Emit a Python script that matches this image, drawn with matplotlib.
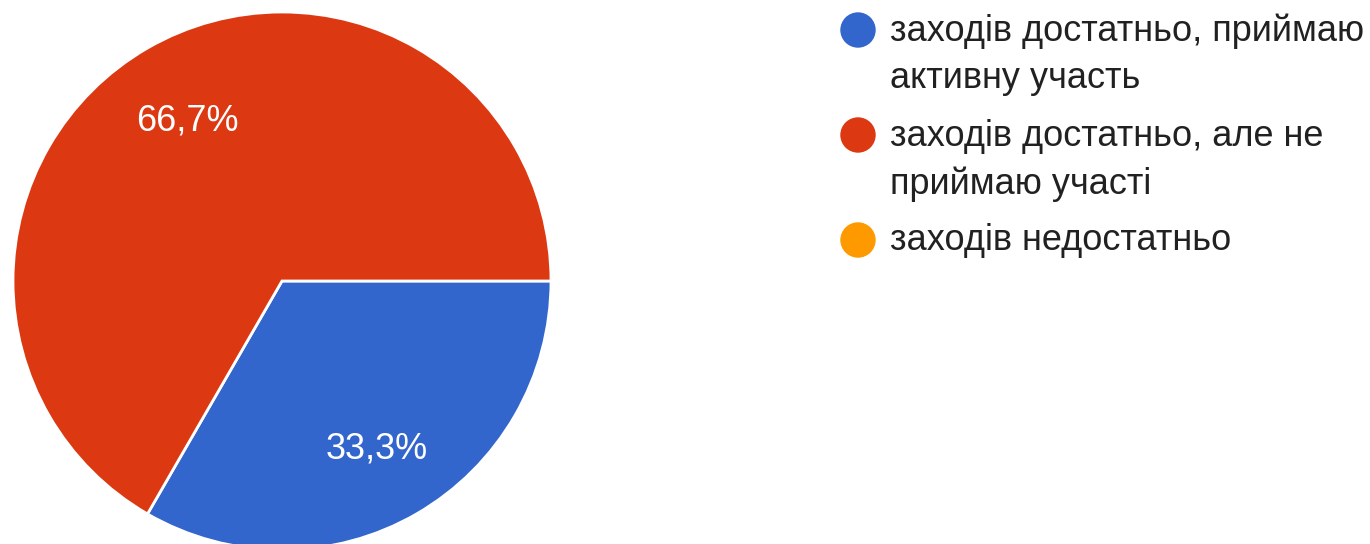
import matplotlib.pyplot as plt

plt.rcParams['font.family'] = ['Liberation Sans', 'DejaVu Sans']

categories = [
    'заходів достатньо, приймаю\nактивну участь',
    'заходів достатньо, але не\nприймаю участі',
    'заходів недостатньо',
]
counts = [1, 2, 0]
colors = ['#3366CC', '#DC3912', '#FF9900']


def fmt_pct(p):
    return ('%.1f%%' % p).replace('.', ',') if p > 0 else ''


def draw():
    fig = plt.figure(figsize=(13.7, 5.44), dpi=100)

    # pie: centre (282, 281) px, radius 269 px
    W, H = 1370, 544
    cx, cy, r = 282, 281, 269
    ax = fig.add_axes([(cx - r) / W, (H - cy - r) / H, 2 * r / W, 2 * r / H])
    vals = [v for v in counts if v > 0]
    cols = [c for v, c in zip(counts, colors) if v > 0]
    wedges, texts, autotexts = ax.pie(
        vals, colors=cols, startangle=0, counterclock=False,
        autopct=fmt_pct, pctdistance=0.705, radius=1,
        wedgeprops=dict(edgecolor='white', linewidth=2),
        textprops=dict(color='white', fontsize=26))
    for t in autotexts:
        t.set_va('center_baseline')
    ax.set_xlim(-1, 1)
    ax.set_ylim(-1, 1)
    ax.set_aspect('equal')
    ax.axis('off')

    # legend drawn in pixel coordinates
    lg = fig.add_axes([0, 0, 1, 1], zorder=-1)
    lg.set_xlim(0, W)
    lg.set_ylim(H, 0)
    lg.axis('off')
    row_y = [31, 136, 241]
    for i, (lab, col) in enumerate(zip(categories, colors)):
        lg.scatter([858], [row_y[i] - 1], s=650, color=col, edgecolors='none')
        for k, line in enumerate(lab.split('\n')):
            lg.text(890, row_y[i] + 48 * k, line, fontsize=26,
                    color='#212121', va='center', ha='left')

    fig.savefig('out.png', dpi=100)


if __name__ == '__main__':
    draw()
